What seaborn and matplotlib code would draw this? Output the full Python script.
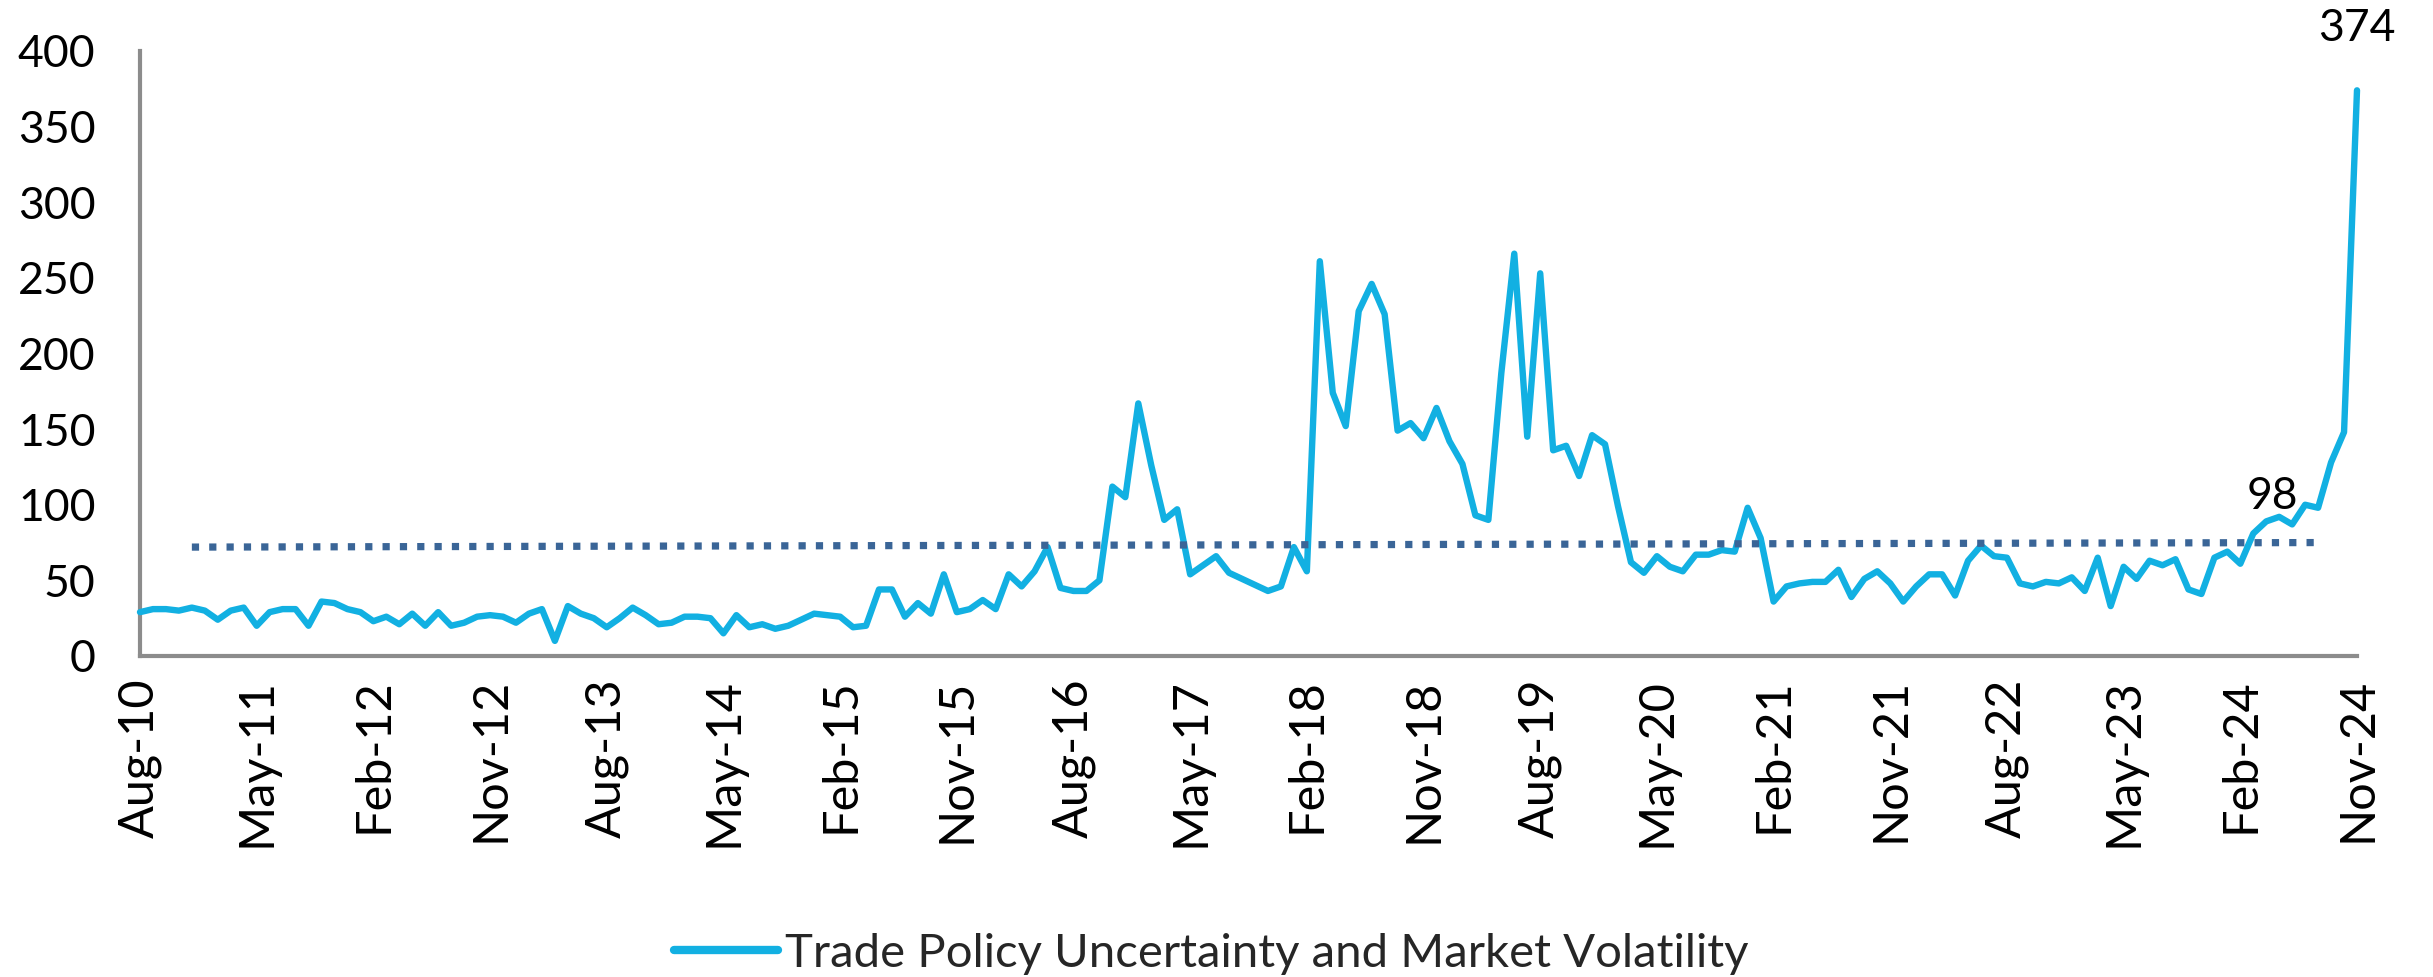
import numpy as np
import pandas as pd
import matplotlib
matplotlib.use("Agg")
import matplotlib.pyplot as plt
import seaborn as sns

# ---------------- data ----------------
start_month = "2010-08"
n_months = 172
months = pd.date_range(start_month, periods=n_months, freq="MS")
month_labels = [d.strftime("%b-%y") for d in months]

values = [
    29, 31, 31, 30, 32, 30, 24, 30, 32, 20,
    29, 31, 31, 20, 36, 35, 31, 29, 23, 26,
    21, 28, 20, 29, 20, 22, 26, 27, 26, 22,
    28, 31, 10, 33, 28, 25, 19, 25, 32, 27,
    21, 22, 26, 26, 25, 15, 27, 19, 21, 18,
    20, 24, 28, 27, 26, 19, 20, 44, 44, 26,
    35, 28, 54, 29, 31, 37, 31, 54, 46, 56,
    72, 45, 43, 43, 50, 112, 105, 167, 126, 90,
    97, 54, 60, 66, 55, 51, 47, 43, 46, 72,
    56, 261, 174, 152, 228, 246, 226, 149, 154, 144,
    164, 142, 127, 93, 90, 187, 266, 145, 253, 136,
    139, 119, 146, 140, 99, 62, 55, 66, 59, 56,
    67, 67, 70, 69, 98, 78, 36, 46, 48, 49,
    49, 57, 39, 51, 56, 48, 36, 46, 54, 54,
    40, 63, 73, 66, 65, 48, 46, 49, 48, 52,
    43, 65, 33, 59, 51, 63, 60, 64, 44, 41,
    65, 69, 61, 81, 89, 92, 87, 100, 98, 128,
    148, 374,
]

series_name = "Trade Policy Uncertainty and Market Volatility"

# average (dotted) reference line
avg_start_label, avg_end_label = "Dec-10", "Aug-24"
avg_values = [72, 75]

# labelled points
label_points = ["Aug-24", "Nov-24"]

tick_step = 9
y_ticks = [0, 50, 100, 150, 200, 250, 300, 350, 400]

# ---------------- plot ----------------
sns.set_theme(style="white")
plt.rcParams["font.family"] = ["Lato", "DejaVu Sans"]

W, H = 2433, 977
fig = plt.figure(figsize=(W / 100, H / 100), dpi=100)
ax = fig.add_axes([140 / W, 321 / H, (2357 - 140) / W, (656 - 51) / H])

df = pd.DataFrame({"idx": np.arange(n_months), "month": month_labels, "value": values})

line_color = "#12B0E2"
avg_color = "#3A6597"
axis_color = "#8C8C8C"

sns.lineplot(data=df, x="idx", y="value", ax=ax, color=line_color, linewidth=4.6,
             label=series_name, clip_on=False, zorder=3)

i0 = month_labels.index(avg_start_label)
i1 = month_labels.index(avg_end_label)
ax.plot([i0, i1], avg_values, color=avg_color, linewidth=5.2,
        linestyle=(0, (1, 1.4)), dash_capstyle="butt", zorder=4, clip_on=False)

ax.set_xlim(0, n_months - 1)
ax.set_ylim(0, 400)
ax.set_yticks(y_ticks)
ax.set_yticklabels([str(t) for t in y_ticks])
xt = list(range(0, n_months, tick_step))
ax.set_xticks(xt)
ax.set_xticklabels([month_labels[i] for i in xt], rotation=90)

for s in ["top", "right"]:
    ax.spines[s].set_visible(False)
for s in ["left", "bottom"]:
    ax.spines[s].set_color(axis_color)
    ax.spines[s].set_linewidth(3.0)
ax.tick_params(axis="both", which="major", direction="out", length=12, width=3.0,
               color=axis_color, labelcolor="black")
ax.tick_params(axis="y", pad=20, labelsize=32)
ax.tick_params(axis="x", pad=4, labelsize=35)
ax.set_xlabel("")
ax.set_ylabel("")
ax.grid(False)

# data labels
iA = month_labels.index(label_points[0])
ax.annotate(str(values[iA]), xy=(iA, values[iA]), xytext=(-33, -7),
            textcoords="offset points", ha="center", va="bottom",
            fontsize=32, color="black", annotation_clip=False)
iB = month_labels.index(label_points[1])
ax.annotate(str(values[iB]), xy=(iB, values[iB]), xytext=(0, 30),
            textcoords="offset points", ha="center", va="bottom",
            fontsize=32, color="black", annotation_clip=False)

ax.get_legend().remove()
handles, labels = ax.get_legend_handles_labels()
leg = fig.legend(handles, labels, loc="center", bbox_to_anchor=(0.498, 0.024),
                 bbox_transform=fig.transFigure, frameon=False, fontsize=34,
                 handlelength=2.2, handletextpad=0.15)
for h in leg.get_lines():
    h.set_linewidth(6)

fig.savefig("out.png", dpi=100, facecolor="white")
